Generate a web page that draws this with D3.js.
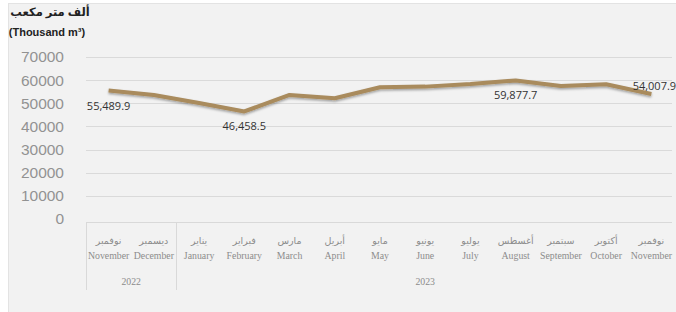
<!DOCTYPE html>
<html>
<head>
<meta charset="utf-8">
<script src="https://cdn.jsdelivr.net/npm/d3@7"></script>
<style>
  body { margin: 0; background: #fff; }
  text { font-family: "Liberation Sans", Arial, sans-serif; }
</style>
</head>
<body>
<script>
// monthly values, thousand m3
const monthsAr = ['نوفمبر', 'ديسمبر', 'يناير', 'فبراير', 'مارس', 'أبريل', 'مايو', 'يونيو', 'يوليو', 'أغسطس', 'سبتمبر', 'أكتوبر', 'نوفمبر'];
const monthsEn = ['November', 'December', 'January', 'February', 'March', 'April', 'May', 'June', 'July', 'August', 'September', 'October', 'November'];
const values = [55489.9, 53600, 50100, 46458.5, 53600, 52200, 56900, 57200, 58300, 59877.7, 57500, 58200, 54007.9];
const labelled = [0, 3, 9, 12];
const years = [{ year: '2022', from: 0, to: 2 }, { year: '2023', from: 2, to: 13 }];
const yTicks = [0, 10000, 20000, 30000, 40000, 50000, 60000, 70000];

const width = 676;
const height = 312;

const svg = d3.select('body').append('svg')
  .attr('width', width)
  .attr('height', height);

const defs = svg.append('defs');
defs.append('filter')
  .attr('id', 'shadow')
  .attr('x', '-5%').attr('y', '-20%').attr('width', '110%').attr('height', '140%')
  .append('feDropShadow')
  .attr('dx', 0).attr('dy', 1.5)
  .attr('stdDeviation', 1)
  .attr('flood-color', '#000')
  .attr('flood-opacity', 0.35);

// chart area
svg.append('rect')
  .attr('x', 8.5).attr('y', 3.5)
  .attr('width', 680).attr('height', 320)
  .attr('fill', '#f2f2f2')
  .attr('stroke', '#e3e3e3');

const xScale = d3.scaleBand()
  .domain(d3.range(monthsEn.length))
  .range([86, 674]);

const yScale = d3.scaleLinear()
  .domain([0, 70000])
  .range([219, 57]);

// gridlines
svg.append('g')
  .selectAll('line')
  .data(yTicks.filter(d => d > 0))
  .enter()
  .append('line')
  .attr('x1', 86)
  .attr('x2', 672)
  .attr('y1', d => Math.round(yScale(d)) + 0.5)
  .attr('y2', d => Math.round(yScale(d)) + 0.5)
  .attr('stroke', '#dadada');

// y axis labels
svg.append('g')
  .selectAll('text')
  .data(yTicks)
  .enter()
  .append('text')
  .attr('x', 64)
  .attr('y', d => yScale(d))
  .attr('dy', '0.35em')
  .attr('text-anchor', 'end')
  .attr('font-size', 15.5)
  .attr('fill', '#929292')
  .text(d => d);

// axis title
svg.append('text')
  .attr('x', 50).attr('y', 16)
  .attr('text-anchor', 'middle')
  .attr('font-size', 11.5)
  .attr('font-weight', 'bold')
  .attr('fill', '#222')
  .style('font-family', '"Noto Sans", "DejaVu Sans", sans-serif')
  .text('ألف متر مكعب');

svg.append('text')
  .attr('x', 47).attr('y', 36)
  .attr('text-anchor', 'middle')
  .attr('font-size', 11)
  .attr('font-weight', 'bold')
  .attr('fill', '#222')
  .text('(Thousand m³)');

// category axis box
const axisTop = 222.5;
const axisBottom = 290;
svg.append('line')
  .attr('x1', 86).attr('x2', 672)
  .attr('y1', axisTop).attr('y2', axisTop)
  .attr('stroke', '#d9d9d9');

const seps = [0, 2];
svg.append('g')
  .selectAll('line')
  .data(seps)
  .enter()
  .append('line')
  .attr('x1', d => Math.round(xScale(d)) + 0.5)
  .attr('x2', d => Math.round(xScale(d)) + 0.5)
  .attr('y1', axisTop)
  .attr('y2', axisBottom)
  .attr('stroke', '#d9d9d9');

const xLabels = svg.append('g');
xLabels.selectAll('text.ar')
  .data(monthsAr)
  .enter()
  .append('text')
  .attr('class', 'ar')
  .attr('x', (d, i) => xScale(i) + xScale.bandwidth() / 2)
  .attr('y', 244)
  .attr('text-anchor', 'middle')
  .attr('font-size', 9.5)
  .attr('fill', '#8c8c8c')
  .style('font-family', '"DejaVu Sans", "Noto Sans", sans-serif')
  .text(d => d);

xLabels.selectAll('text.en')
  .data(monthsEn)
  .enter()
  .append('text')
  .attr('class', 'en')
  .attr('x', (d, i) => xScale(i) + xScale.bandwidth() / 2)
  .attr('y', 259)
  .attr('text-anchor', 'middle')
  .attr('font-size', 9.8)
  .attr('fill', '#8c8c8c')
  .style('font-family', '"Liberation Serif", "DejaVu Serif", serif')
  .text(d => d);

xLabels.selectAll('text.yr')
  .data(years)
  .enter()
  .append('text')
  .attr('class', 'yr')
  .attr('x', d => (xScale(d.from) + (d.to < monthsEn.length ? xScale(d.to) : xScale.range()[1])) / 2)
  .attr('y', 285)
  .attr('text-anchor', 'middle')
  .attr('font-size', 9.8)
  .attr('fill', '#8c8c8c')
  .style('font-family', '"Liberation Serif", "DejaVu Serif", serif')
  .text(d => d.year);

// line
const line = d3.line()
  .x((d, i) => xScale(i) + xScale.bandwidth() / 2)
  .y(d => yScale(d));

svg.append('path')
  .datum(values)
  .attr('d', line)
  .attr('fill', 'none')
  .attr('stroke', '#a98b5d')
  .attr('stroke-width', 4)
  .attr('stroke-linejoin', 'round')
  .attr('filter', 'url(#shadow)');

// data labels
const fmt = d3.format(',.1f');
svg.append('g')
  .selectAll('text')
  .data(labelled)
  .enter()
  .append('text')
  .attr('x', i => xScale(i) + xScale.bandwidth() / 2 + (i === labelled[labelled.length - 1] ? 3 : 0))
  .attr('y', i => yScale(values[i]) + (i === labelled[labelled.length - 1] ? -4 : 19))
  .attr('text-anchor', 'middle')
  .attr('font-size', 11)
  .attr('fill', '#333')
  .style('font-family', '"Open Sans", "Liberation Sans", sans-serif')
  .text(i => fmt(values[i]));
</script>
</body>
</html>
